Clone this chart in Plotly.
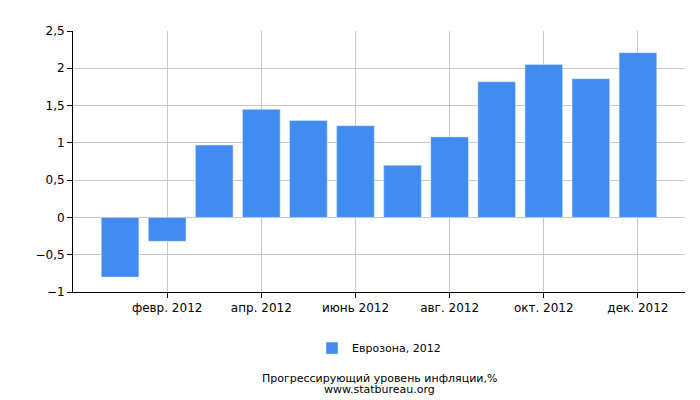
import plotly.graph_objects as go

months = ["янв.", "февр.", "март", "апр.", "май", "июнь", "июль", "авг.", "сент.", "окт.", "нояб.", "дек."]
values = [-0.8, -0.32, 0.97, 1.45, 1.3, 1.23, 0.7, 1.08, 1.82, 2.05, 1.86, 2.21]
tick_labels = ["февр. 2012", "апр. 2012", "июнь 2012", "авг. 2012", "окт. 2012", "дек. 2012"]
tick_idx = [1, 3, 5, 7, 9, 11]
y_ticks = [-1, -0.5, 0, 0.5, 1, 1.5, 2, 2.5]

fig = go.Figure(go.Bar(x=list(range(len(months))), y=values, width=0.8,
                       marker_color="#418cf0", name="Еврозона, 2012"))
fig.update_layout(
    width=700, height=400, separators=", ",
    margin=dict(l=65, r=23, t=23, b=116, autoexpand=False),
    plot_bgcolor="white", paper_bgcolor="white",
    font=dict(family="DejaVu Sans", size=12, color="black"),
    showlegend=True,
    legend=dict(orientation="h", x=0.5, xanchor="center", y=-0.215, yanchor="middle", font=dict(size=11)),
    xaxis=dict(range=[-1, 12], tickvals=tick_idx, ticktext=tick_labels, showgrid=True,
               gridcolor="#c8c8c8", ticks="outside", ticklen=5, tickcolor="black",
               showline=True, linecolor="black", zeroline=False),
    yaxis=dict(range=[-1, 2.5], tickvals=y_ticks, showgrid=True, gridcolor="#c8c8c8",
               ticks="outside", ticklen=5, tickcolor="black", showline=True, linecolor="black",
               zeroline=False, tickformat=","),
    annotations=[
        dict(text="Прогрессирующий уровень инфляции,%", x=0.5, xref="paper", y=-0.33, yref="paper",
             yanchor="middle", showarrow=False, font=dict(size=11), xanchor="center"),
        dict(text="www.statbureau.org", x=0.5, xref="paper", y=-0.375, yref="paper",
             yanchor="middle", showarrow=False, font=dict(size=11), xanchor="center"),
    ],
)
fig.write_html("out.html")
